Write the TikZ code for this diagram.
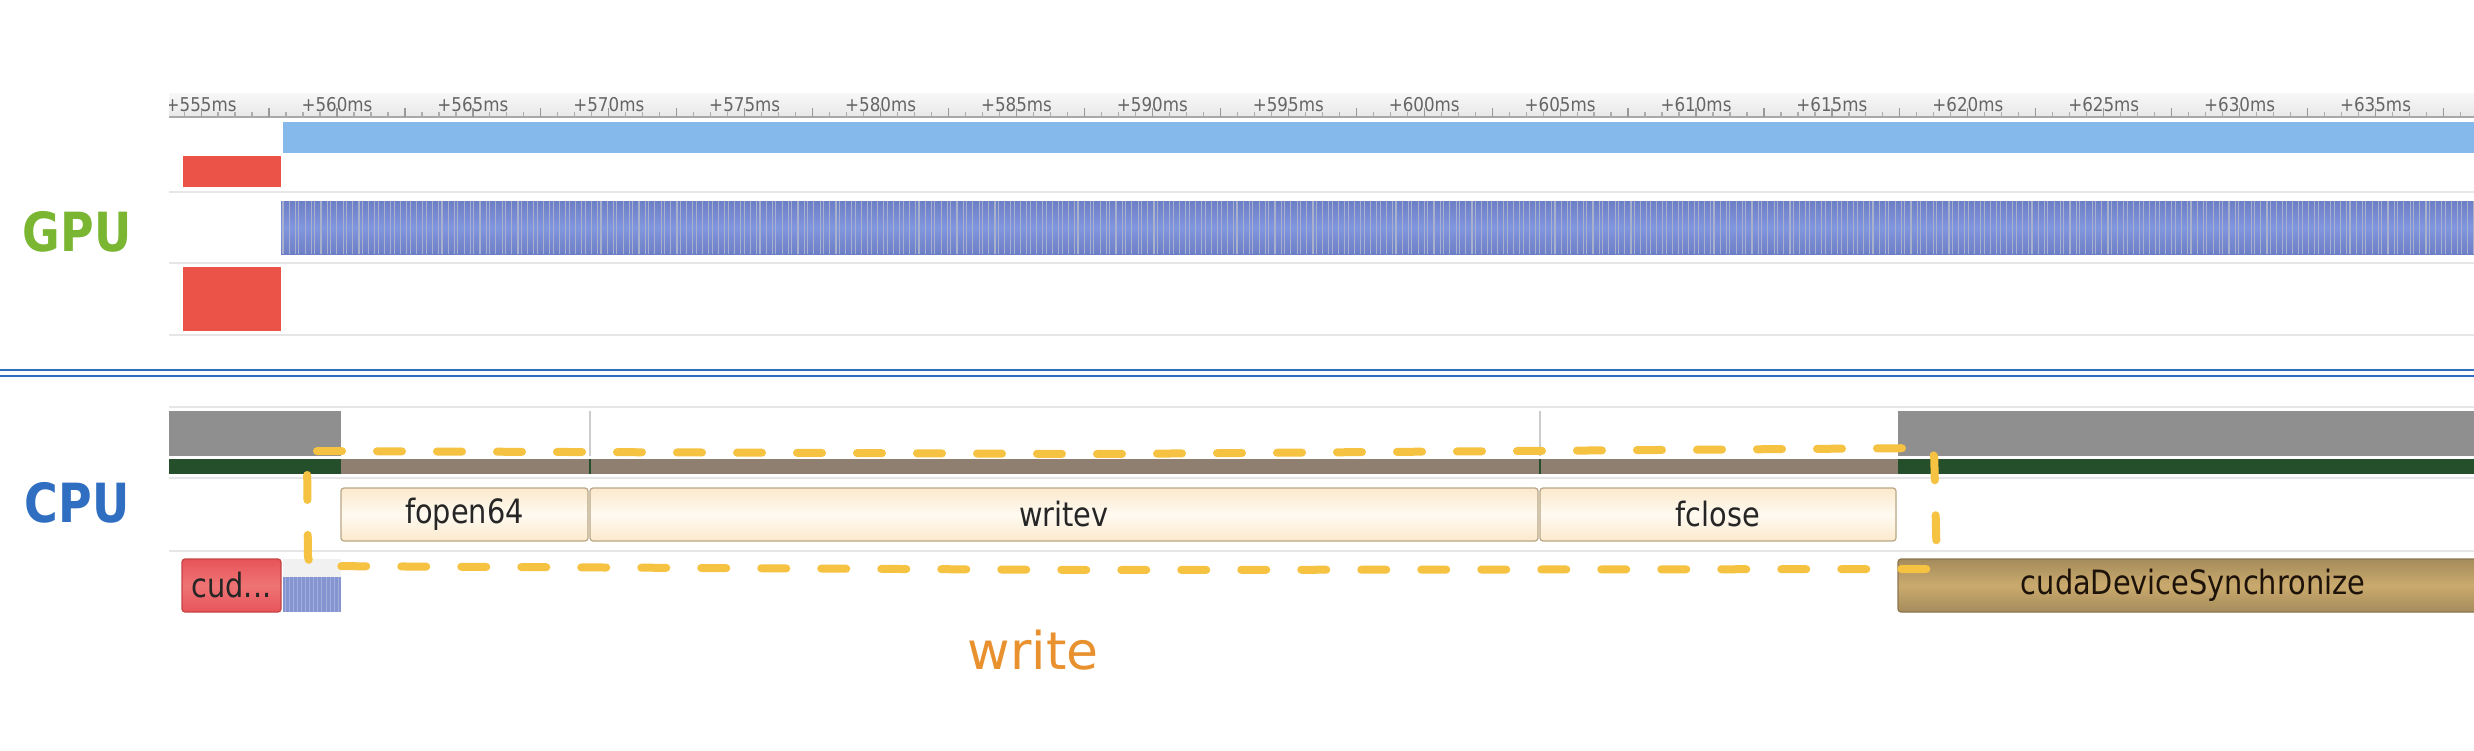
\documentclass[tikz,border=0pt]{standalone}
\usepackage{fontspec}
\setmainfont{DejaVu Sans}
\newfontfamily\hwfont{DejaVu Sans}[FakeStretch=0.85]
\newfontfamily\cfont{DejaVu Sans}[FakeStretch=0.86]
\newfontfamily\rfont{DejaVu Sans}[FakeStretch=0.88]
\definecolor{rulertxt}{HTML}{666666}
\definecolor{sepgray}{HTML}{E6E6E6}
\definecolor{gpugreen}{HTML}{7AB632}
\definecolor{cpublue}{HTML}{2F6EC0}
\definecolor{kred}{HTML}{EB5248}
\definecolor{lightblue}{HTML}{86B9EB}
\definecolor{stripeedge}{HTML}{6C7EC6}
\definecolor{stripemid}{HTML}{8096DF}
\definecolor{stripeline}{HTML}{A9B0CC}
\definecolor{threadgray}{HTML}{8F8F8F}
\definecolor{darkgreen}{HTML}{244F2A}
\definecolor{brownbar}{HTML}{8F7F70}
\definecolor{creamedge}{HTML}{FBE9CC}
\definecolor{creammid}{HTML}{FFFAF1}
\definecolor{creamborder}{HTML}{B9A684}
\definecolor{redtop}{HTML}{E7545A}
\definecolor{redmid}{HTML}{EF7474}
\definecolor{redborder}{HTML}{C64444}
\definecolor{tanedge}{HTML}{A58C5C}
\definecolor{tanmid}{HTML}{CAAA6D}
\definecolor{tanborder}{HTML}{8C7550}
\definecolor{histblue}{HTML}{8595D2}
\definecolor{histline}{HTML}{A3AEDC}
\definecolor{hlyellow}{HTML}{F5C242}
\definecolor{writeorange}{HTML}{E8912E}
\definecolor{boxtext}{HTML}{262626}
\tikzset{
  sepline/.style={draw=sepgray, line width=1.5},
  stripe/.style={draw=stripeline, line width=1.1},
  callbox/.style={draw=creamborder, line width=1.2, rounded corners=3,
    top color=creamedge, bottom color=creamedge, middle color=creammid,
    inner sep=0, minimum height=53, text=boxtext,
    font=\cfont\fontsize{33.5}{36}\selectfont},
  hl/.style={draw=hlyellow, line width=8, line cap=round, line join=round,
    dash pattern=on 25 off 35},
  ticklabel/.style={anchor=base, text=rulertxt, inner sep=0,
    font=\rfont\fontsize{19}{21}\selectfont},
  hwlabel/.style={font=\hwfont\bfseries\fontsize{54}{58}\selectfont, inner sep=0}
}
\begin{document}
\begin{tikzpicture}[x=1pt,y=-1pt]
\useasboundingbox (0,0) rectangle (2474,750);
\fill[white] (0,0) rectangle (2474,750);
\begin{scope}
\clip (0,0) rectangle (2474,750);

% ---------- ruler ----------
\shade[top color=white!97!black, bottom color=white!91!black] (169,93) rectangle (2474,117);
\draw[draw=white!66!black, line width=2] (169,117) -- (2474,117);
\foreach \i in {-9,...,125} {
  \pgfmathsetmacro{\tx}{337+16.9875*\i}
  \pgfmathtruncatemacro{\m}{mod(\i+16,4)}
  \ifnum\m=0
    \draw[white!60!black, line width=1.2] (\tx,108) -- (\tx,117);
  \else
    \draw[white!68!black, line width=1.2] (\tx,112) -- (\tx,117);
  \fi
}
\begin{scope}
\clip (169,90) rectangle (2474,117);
\foreach \t in {555,560,...,635} {
  \node[ticklabel] (t\t) at ({337+27.18*(\t-560)},111) {+\t ms};
}
\end{scope}

% ---------- GPU ----------
\node[hwlabel, text=gpugreen] (gpu) at (77,232) {GPU};
\fill[lightblue] (283,122) rectangle (2474,153);
\fill[kred] (183,156) rectangle (281,187);
\draw[sepline] (169,192) -- (2474,192);
\shade[top color=stripeedge, bottom color=stripeedge, middle color=stripemid] (281,201) rectangle (2474,254);
\foreach \i in {0,...,414} {
  \pgfmathsetmacro{\sx}{283+5.3*\i+0.9*mod(\i*7,3)}
  \draw[stripe] (\sx,201) -- (\sx,254);
}
\draw[sepline] (169,263) -- (2474,263);
\fill[kred] (183,267) rectangle (281,331);
\draw[sepline] (169,335) -- (2474,335);

% ---------- divider ----------
\draw[cpublue, line width=2.7] (0,370) -- (2474,370);
\draw[cpublue, line width=2.7] (0,376) -- (2474,376);

% ---------- CPU ----------
\node[hwlabel, text=cpublue] (cpu) at (77,503) {CPU};
\draw[sepline] (169,407) -- (2474,407);
\fill[threadgray] (169,411) rectangle (341,456);
\fill[threadgray] (1898,411) rectangle (2474,456);
\draw[white!80!black, line width=1.5] (590,411) -- (590,456);
\draw[white!80!black, line width=1.5] (1540,411) -- (1540,456);
\fill[darkgreen] (169,459) rectangle (341,474);
\fill[darkgreen] (1898,459) rectangle (2474,474);
\fill[brownbar] (341,459) rectangle (1898,474);
\draw[darkgreen, line width=1.5] (590,459) -- (590,474);
\draw[darkgreen, line width=1.5] (1540,459) -- (1540,474);
\draw[sepline] (169,478) -- (2474,478);

\node[callbox, minimum width=247] (fopen) at (464.5,514.5) {fopen64};
\node[callbox, minimum width=948] (writev) at (1064,514.5) {writev};
\node[callbox, minimum width=356] (fclose) at (1718,514.5) {fclose};

\draw[sepline] (169,551) -- (2474,551);

\node[draw=redborder, line width=1.2, rounded corners=3,
  top color=redtop, bottom color=redtop, middle color=redmid,
  minimum width=99, minimum height=53, inner sep=0, text=boxtext,
  font=\cfont\fontsize{33.5}{36}\selectfont] (cud) at (231.5,585.5) {cud...};
\fill[white!94.5!black] (283,559) rectangle (341,612);
\fill[histblue] (283,577) rectangle (341,612);
\foreach \i in {0,...,13} {
  \draw[histline, line width=1] ({285+4.1*\i},577) -- ({285+4.1*\i},612);
}
\node[draw=tanborder, line width=1.2, rounded corners=3,
  top color=tanedge, bottom color=tanedge, middle color=tanmid,
  minimum width=590, minimum height=53, inner sep=0, text=black!85!brown,
  font=\cfont\fontsize{33.5}{36}\selectfont] (sync) at (2193,585.5) {cudaDeviceSynchronize};

% ---------- highlight ----------
\coordinate (hA) at (307,451);
\coordinate (hB) at (1100,454);
\coordinate (hC) at (1934,448);
\coordinate (hD) at (1937,569);
\coordinate (hE) at (1100,570);
\coordinate (hF) at (308,566);
\draw[hl, rounded corners=10] (hA) -- (hB) -- (hC) -- (hD) -- (hE) -- (hF) -- cycle;

\node[text=writeorange, inner sep=0, font=\fontsize{52}{56}\selectfont] (write) at (1033,650) {write};
\end{scope}
\end{tikzpicture}
\end{document}
